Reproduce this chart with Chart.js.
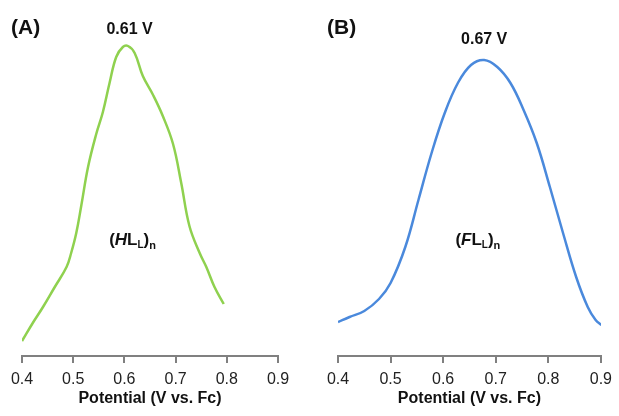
<!DOCTYPE html>
<html>
<head>
<meta charset="utf-8">
<script src="https://cdn.jsdelivr.net/npm/chart.js@4.4.0/dist/chart.umd.min.js"></script>
<style>
  html, body { margin: 0; padding: 0; background: #fff; }
  #wrap { position: relative; width: 619px; height: 416px; }
  .panel { position: absolute; top: 0; height: 416px; }
</style>
</head>
<body>
<div id="wrap">
  <div class="panel" style="left:0;width:310px;"><canvas id="chartA"></canvas></div>
  <div class="panel" style="left:310px;width:309px;"><canvas id="chartB"></canvas></div>
</div>
<script>
// potential (V vs. Fc) and current (arb. units)
var potA = [0.400, 0.421, 0.441, 0.464, 0.487, 0.496, 0.506, 0.516, 0.529, 0.545, 0.558, 0.571, 0.584, 0.597, 0.607,
            0.620, 0.636, 0.656, 0.675, 0.695, 0.711, 0.727, 0.747, 0.760, 0.776, 0.794];
var curA = [15, 33, 49, 69, 89, 103, 123, 151, 189, 222, 244, 273, 299, 309, 310,
            303, 280, 261, 240, 212, 173, 130, 103, 89, 69, 52];

var potB = [0.400, 0.422, 0.450, 0.478, 0.500, 0.528, 0.553, 0.578, 0.603, 0.628, 0.653, 0.678, 0.703, 0.728,
            0.753, 0.778, 0.803, 0.828, 0.853, 0.875, 0.890, 0.901];
var curB = [34, 39, 45, 57, 73, 109, 156, 203, 243, 273, 291, 296, 289, 273,
            246, 213, 169, 123, 79, 49, 36, 31];

var xTicks = [0.4, 0.5, 0.6, 0.7, 0.8, 0.9];
var axisTitle = 'Potential (V vs. Fc)';

var panelLetters = ['(A)', '(B)'];
var peakLabels = ['0.61 V', '0.67 V'];
var peakPot = [0.61, 0.678];
var speciesLetter = ['H', 'F'];
var speciesPos = [[0.616, 116], [0.666, 116]];

var FONT = '"Liberation Sans", Arial, sans-serif';

function toPts(xs, ys) {
    var pts = [];
    for (var i = 0; i < xs.length; i++) { pts.push({x: xs[i], y: ys[i]}); }
    return pts;
}

// draws the (A)/(B) letter, the peak label and the (XL_L)_n species label
var labelsPlugin = {
    id: 'panelLabels',
    afterDatasetsDraw: function (chart) {
        var o = chart.options.plugins.panelLabels;
        var ctx = chart.ctx;
        var xs = chart.scales.x, ys = chart.scales.y;
        ctx.save();
        ctx.fillStyle = '#111';
        ctx.textBaseline = 'middle';

        ctx.font = 'bold 21px ' + FONT;
        ctx.textAlign = 'left';
        ctx.fillText(o.letter, o.letterX, 28);

        // peak label, a little above the highest point
        var ds = chart.data.datasets[0].data;
        var top = 0;
        for (var i = 0; i < ds.length; i++) { top = Math.max(top, ds[i].y); }
        ctx.font = 'bold 16px ' + FONT;
        ctx.textAlign = 'center';
        ctx.fillText(o.peak, xs.getPixelForValue(o.peakX), ys.getPixelForValue(top) - o.peakGap);

        // species label with subscripts
        var segs = [
            {t: '(', f: 'bold 17px ', dy: 0},
            {t: o.species, f: 'italic bold 17px ', dy: 0},
            {t: 'L', f: 'bold 17px ', dy: 0},
            {t: 'L', f: 'bold 10px ', dy: 5},
            {t: ')', f: 'bold 17px ', dy: 0},
            {t: 'n', f: 'bold 11px ', dy: 6}
        ];
        var w = 0;
        segs.forEach(function (s) { ctx.font = s.f + FONT; s.w = ctx.measureText(s.t).width; w += s.w; });
        var cx = xs.getPixelForValue(o.speciesAt[0]) - w / 2;
        var cy = ys.getPixelForValue(o.speciesAt[1]);
        ctx.textAlign = 'left';
        segs.forEach(function (s) {
            ctx.font = s.f + FONT;
            ctx.fillText(s.t, cx, cy + s.dy);
            cx += s.w;
        });
        ctx.restore();
    }
};

function makeChart(id, pts, color, idx, pad) {
    return new Chart(document.getElementById(id), {
        type: 'line',
        data: {
            datasets: [{
                data: pts,
                borderColor: color,
                borderWidth: 2.5,
                pointRadius: 0,
                fill: false,
                tension: 0.4
            }]
        },
        options: {
            responsive: true,
            maintainAspectRatio: false,
            animation: false,
            layout: { padding: { left: pad[0], right: pad[1], top: 0, bottom: 0 } },
            plugins: {
                legend: { display: false },
                tooltip: { enabled: false },
                panelLabels: {
                    letter: panelLetters[idx],
                    letterX: pad[2],
                    peak: peakLabels[idx],
                    peakX: peakPot[idx],
                    peakGap: pad[3],
                    species: speciesLetter[idx],
                    speciesAt: speciesPos[idx]
                }
            },
            scales: {
                x: {
                    type: 'linear',
                    min: 0.4,
                    max: 0.9,
                    afterBuildTicks: function (s) { s.ticks = xTicks.map(function (v) { return {value: v}; }); },
                    afterFit: function (s) { s.height = 60; },
                    grid: {
                        drawOnChartArea: false,
                        drawTicks: true,
                        tickLength: 7,
                        color: '#808080',
                        lineWidth: 2
                    },
                    border: { display: true, color: '#808080', width: 2 },
                    ticks: {
                        padding: 7,
                        color: '#222',
                        font: { family: FONT, size: 16 },
                        callback: function (v) { return v.toFixed(1); }
                    },
                    title: {
                        display: true,
                        text: axisTitle,
                        color: '#111',
                        font: { family: FONT, size: 16, weight: 'bold' },
                        padding: { top: 0, bottom: 8 }
                    }
                },
                y: { display: false, min: 0, max: 356 }
            }
        },
        plugins: [labelsPlugin]
    });
}

makeChart('chartA', toPts(potA, curA), '#8fd14f', 0, [22, 32, 11, 16]);
makeChart('chartB', toPts(potB, curB), '#4a89dc', 1, [28, 14, 17, 20]);
</script>
</body>
</html>
